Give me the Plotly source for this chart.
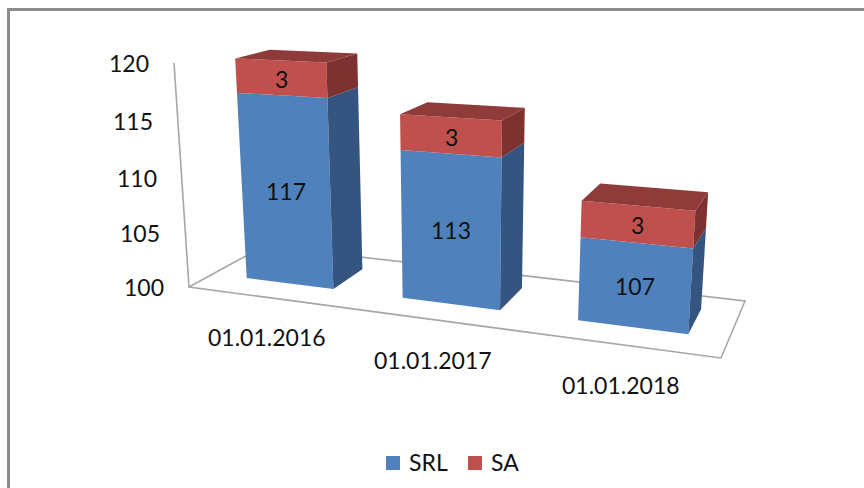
import numpy as np
import plotly.graph_objects as go

# ---- data ----
categories = ["01.01.2016", "01.01.2017", "01.01.2018"]
srl_values = [117, 113, 107]
sa_values = [3, 3, 3]
y_ticks = [100, 105, 110, 115, 120]
series_names = ["SRL", "SA"]

# ---- style ----
FONT = "Lato"
FS = 23
TXT = "#111111"
AXIS = "#a6a6a6"
BLUE_F, BLUE_S = "#4f81bd", "#34557f"
RED_F, RED_S, RED_T = "#c0504d", "#7d3231", "#8e3b39"

# ---- oblique camera: maps (category pos u, depth d, value z) to the page ----
Y_MIN, Y_MAX = y_ticks[0], y_ticks[-1]
floor = np.array([[189, 287], [721, 358], [745, 301], [264, 246]], float)
wall_top = np.array([174, 63.0])
vanish = np.array([459, 4320.0, 1.0])

def _floor_h():
    src = [(0, 0), (1, 0), (1, 1), (0, 1)]
    A, b = [], []
    for (u, v), (x, y) in zip(src, floor):
        A.append([u, v, 1, 0, 0, 0, -u * x, -v * x]); b.append(x)
        A.append([0, 0, 0, u, v, 1, -u * y, -v * y]); b.append(y)
    h = np.linalg.solve(np.array(A), np.array(b))
    return np.append(h, 1).reshape(3, 3)

H = _floor_h()
k = -(floor[0][1] - wall_top[1]) / (vanish[1] - wall_top[1]) / (Y_MAX - Y_MIN)

def proj(u, d, z):
    p = H @ np.array([u, d, 1.0]) + (z - Y_MIN) * k * vanish
    return p[0] / p[2], p[1] / p[2]

BAR_U = 0.19
U_SHIFT = 0.005
D0, D1 = 0.30, 0.75

fig = go.Figure()

def face(pts, color):
    xs, ys = zip(*[proj(*p) for p in pts])
    fig.add_trace(go.Scatter(x=list(xs) + [xs[0]], y=list(ys) + [ys[0]], mode="lines",
                             fill="toself", fillcolor=color, line=dict(width=0),
                             hoverinfo="skip", showlegend=False))

# axis floor and wall
corners = [(0, 0, Y_MAX), (0, 0, Y_MIN), (1, 0, Y_MIN), (1, 1, Y_MIN), (0, 1, Y_MIN), (0, 0, Y_MIN)]
xs, ys = zip(*[proj(*c) for c in corners])
fig.add_trace(go.Scatter(x=xs, y=ys, mode="lines", line=dict(color=AXIS, width=1.6),
                         hoverinfo="skip", showlegend=False))

annotations = []
def label(x, y, text, anchor="center"):
    annotations.append(dict(x=x, y=y, text=text, xref="x", yref="y", showarrow=False, xanchor=anchor,
                            yanchor="middle", font=dict(family=FONT, size=FS, color=TXT)))

n = len(categories)
for i, (s, a) in enumerate(zip(srl_values, sa_values)):
    c = (i + 0.5) / n + U_SHIFT
    u0, u1 = c - BAR_U / 2, c + BAR_U / 2
    for lo, hi, fc, sc in [(Y_MIN, s, BLUE_F, BLUE_S), (s, s + a, RED_F, RED_S)]:
        face([(u0, D0, lo), (u1, D0, lo), (u1, D0, hi), (u0, D0, hi)], fc)
        face([(u1, D0, lo), (u1, D1, lo), (u1, D1, hi), (u1, D0, hi)], sc)
    top = s + a
    face([(u0, D0, top), (u1, D0, top), (u1, D1, top), (u0, D1, top)], RED_T)
    for lo, hi, val in [(Y_MIN, s, s), (s, top, a)]:
        corners4 = [proj(u, D0, z) for u in (u0, u1) for z in (lo, hi)]
        label(np.mean([p[0] for p in corners4]), np.mean([p[1] for p in corners4]) + 1, str(val))
    fx, fy = proj(c, 0, Y_MIN)
    label(fx, fy + 40, categories[i])

for t in y_ticks:
    x, y = proj(0, 0, t)
    label(x - 23, y, str(t), "right")

# legend
leg_x = [393, 475]
leg_col = [BLUE_F, RED_F]
for name, lx, col in zip(series_names, leg_x, leg_col):
    fig.add_trace(go.Scatter(x=[lx], y=[463], mode="markers", name=name,
                             marker=dict(symbol="square", size=14, color=col), showlegend=False))
    label(lx + 14, 462, name, "left")

fig.update_layout(
    width=864, height=488, margin=dict(l=0, r=0, t=0, b=0),
    paper_bgcolor="white", plot_bgcolor="white", showlegend=False,
    xaxis=dict(range=[0, 864], visible=False, fixedrange=True),
    yaxis=dict(range=[488, 0], visible=False, fixedrange=True),
    annotations=annotations,
    shapes=[
        dict(type="line", xref="x", yref="y", x0=8.5, x1=8.5, y0=8, y1=488, line=dict(color="#8c8c8c", width=3)),
        dict(type="line", xref="x", yref="y", x0=7, x1=864, y0=9.5, y1=9.5, line=dict(color="#8c8c8c", width=3)),
    ],
)
fig.write_html("out.html", config={"displayModeBar": False},
               post_script="document.body.style.margin='0';document.documentElement.style.overflow='hidden';")
